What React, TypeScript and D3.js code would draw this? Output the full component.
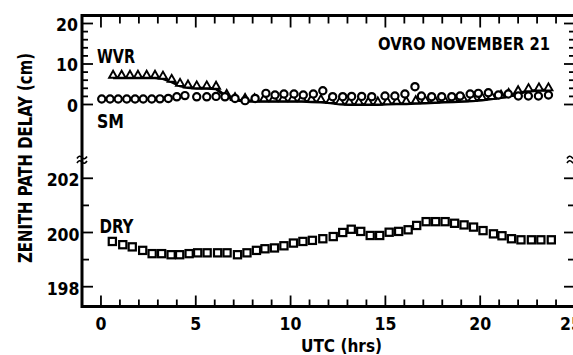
import React from 'react';
import * as d3 from 'd3';

// ---- data ----
const dryTimes = [0.6, 1.15, 1.65, 2.2, 2.7, 3.2, 3.7, 4.15, 4.65, 5.1, 5.6, 6.15, 6.65, 7.2, 7.7, 8.2, 8.65, 9.15, 9.65, 10.15, 10.65, 11.15, 11.7, 12.25, 12.75, 13.2, 13.7, 14.2, 14.7, 15.2, 15.7, 16.2, 16.65, 17.15, 17.65, 18.15, 18.65, 19.15, 19.65, 20.15, 20.7, 21.15, 21.65, 22.15, 22.7, 23.2, 23.75];
const dryValues = [199.67, 199.55, 199.47, 199.34, 199.22, 199.22, 199.18, 199.18, 199.22, 199.25, 199.25, 199.25, 199.25, 199.18, 199.25, 199.34, 199.4, 199.43, 199.51, 199.61, 199.67, 199.71, 199.77, 199.85, 200.0, 200.12, 200.04, 199.89, 199.89, 200.01, 200.04, 200.1, 200.26, 200.4, 200.4, 200.4, 200.34, 200.28, 200.2, 200.07, 199.95, 199.88, 199.77, 199.73, 199.73, 199.73, 199.73];

const smTimes = [0.04, 0.48, 0.91, 1.36, 1.8, 2.23, 2.68, 3.11, 3.55, 4.0, 4.43, 5.05, 5.58, 6.07, 6.54, 7.07, 7.6, 8.13, 8.7, 9.18, 9.65, 10.18, 10.67, 11.2, 11.7, 12.22, 12.75, 13.22, 13.75, 14.28, 14.98, 15.5, 16.03, 16.56, 16.9, 17.44, 17.97, 18.5, 18.94, 19.47, 19.9, 20.43, 20.96, 21.48, 22.01, 22.54, 23.07, 23.6];
const smValues = [1.35, 1.35, 1.35, 1.35, 1.35, 1.35, 1.35, 1.4, 1.5, 1.9, 2.2, 1.9, 1.9, 2.0, 1.9, 1.5, 0.95, 1.5, 2.75, 2.35, 2.6, 2.6, 2.35, 2.6, 3.4, 1.93, 1.93, 2.0, 2.0, 1.93, 2.1, 2.1, 2.6, 4.4, 2.1, 1.93, 1.93, 1.93, 2.1, 2.6, 2.75, 2.9, 2.35, 2.6, 2.1, 2.1, 2.1, 2.35];

const wvrTimes = [0.64, 1.09, 1.53, 1.95, 2.41, 2.85, 3.27, 3.73, 4.17, 4.59, 5.05, 5.58, 6.07, 6.63, 7.07, 7.6, 8.1, 8.6, 9.1, 9.6, 10.1, 10.6, 11.1, 11.6, 12.1, 12.6, 13.1, 13.6, 14.1, 14.6, 15.1, 15.6, 16.1, 16.6, 17.1, 17.6, 18.1, 18.6, 19.1, 19.6, 20.1, 20.6, 21.1, 21.5, 22.0, 22.55, 23.1, 23.6];
const wvrValues = [6.6, 6.6, 6.6, 6.6, 6.6, 6.6, 6.4, 5.6, 4.6, 4.2, 4.0, 4.0, 3.9, 1.85, 1.1, 0.86, 0.8, 0.8, 0.8, 0.8, 0.8, 0.8, 0.7, 0.6, 0.4, 0.1, 0.0, 0.0, 0.0, 0.0, 0.1, 0.2, 0.2, 0.3, 0.4, 0.5, 0.6, 0.7, 0.8, 0.9, 1.1, 1.4, 1.7, 2.1, 2.8, 3.3, 3.5, 3.5];

const xMajorTicks = [0, 5, 10, 15, 20, 25];
const xMinorTicks = [1, 2, 3, 4, 6, 7, 8, 9, 11, 12, 13, 14, 16, 17, 18, 19, 21, 22, 23, 24];
const wetMajorTicks = [0, 10, 20];
const wetMinorTicks = [2, 4, 6, 8, 12, 14, 16, 18];
const dryMajorTicks = [198, 200, 202];
const dryMinorTicks = [199, 201];

const FONT = '"DejaVu Sans Condensed", "DejaVu Sans", sans-serif';

export default function App() {
  const W = 573, H = 355;
  const left = 82, right = 575, top = 15.5, bottom = 306.5;
  const x = d3.scaleLinear().domain([-1, 25]).range([left, right]);
  const yWet = d3.scaleLinear().domain([0, 20]).range([104.5, 23.5]);
  const yDry = d3.scaleLinear().domain([198, 202]).range([286.7, 178.3]);

  const wvrLine = d3.line<number>().x((_, i) => x(wvrTimes[i])).y((d) => yWet(d))(wvrValues) || '';

  const tilde = (cx: number, cy: number) =>
    `M${cx - 5},${cy + 1} q2.5,-4 5,-1 t5,-1`;

  return (
    <svg width={W} height={H} style={{ position: 'absolute', left: 0, top: 0, background: '#fff' }} fontFamily={FONT} fontWeight="bold">
      <rect x={0} y={0} width={W} height={H} fill="#fff" />
      {/* frame */}
      <g stroke="#000" strokeWidth={3} fill="none">
        <line x1={left} y1={top} x2={right} y2={top} />
        <line x1={left} y1={bottom} x2={right} y2={bottom} />
        <line x1={left} y1={top - 1.5} x2={left} y2={bottom + 1.5} />
        <line x1={right} y1={top - 1.5} x2={right} y2={bottom + 1.5} />
      </g>
      {/* ticks */}
      <g stroke="#000" strokeWidth={1.8}>
        {xMajorTicks.map((t) => (
          <g key={'xM' + t}>
            <line x1={x(t)} x2={x(t)} y1={bottom} y2={bottom - 11} />
            <line x1={x(t)} x2={x(t)} y1={top} y2={top + 12} />
          </g>
        ))}
        {xMinorTicks.map((t) => (
          <g key={'xm' + t}>
            <line x1={x(t)} x2={x(t)} y1={bottom} y2={bottom - 7} />
            <line x1={x(t)} x2={x(t)} y1={top} y2={top + 8} />
          </g>
        ))}
        {wetMajorTicks.map((v) => (
          <g key={'wM' + v}>
            <line x1={left} x2={left + 11} y1={yWet(v)} y2={yWet(v)} />
            <line x1={right} x2={right - 11} y1={yWet(v)} y2={yWet(v)} />
          </g>
        ))}
        {wetMinorTicks.map((v) => (
          <g key={'wm' + v}>
            <line x1={left} x2={left + 6} y1={yWet(v)} y2={yWet(v)} />
            <line x1={right} x2={right - 6} y1={yWet(v)} y2={yWet(v)} />
          </g>
        ))}
        {dryMajorTicks.map((v) => (
          <g key={'dM' + v}>
            <line x1={left} x2={left + 11} y1={yDry(v)} y2={yDry(v)} />
            <line x1={right} x2={right - 11} y1={yDry(v)} y2={yDry(v)} />
          </g>
        ))}
        {dryMinorTicks.map((v) => (
          <g key={'dm' + v}>
            <line x1={left} x2={left + 7} y1={yDry(v)} y2={yDry(v)} />
            <line x1={right} x2={right - 7} y1={yDry(v)} y2={yDry(v)} />
          </g>
        ))}
      </g>
      {/* axis breaks */}
      <g stroke="#000" strokeWidth={1.6} fill="none">
        <path d={tilde(left, 157.5)} />
        <path d={tilde(left, 162)} />
        <path d={tilde(right - 3, 157.5)} />
        <path d={tilde(right - 3, 162)} />
      </g>
      {/* tick labels */}
      <g fontSize={17.5} fill="#000">
        {xMajorTicks.map((t) => (
          <text key={'xl' + t} x={t === 25 ? x(t) - 4 : x(t)} y={329.5} textAnchor="middle">{t}</text>
        ))}
        {wetMajorTicks.map((v) => (
          <text key={'wl' + v} x={78} y={yWet(v) + 7} textAnchor="end">{v}</text>
        ))}
        {dryMajorTicks.map((v) => (
          <text key={'dl' + v} x={79.5} y={yDry(v) + 8} textAnchor="end">{v}</text>
        ))}
      </g>
      {/* titles */}
      <text transform="translate(31.5,158) rotate(-90)" textAnchor="middle" fontSize={20} textLength={210} lengthAdjust="spacingAndGlyphs">ZENITH PATH DELAY (cm)</text>
      <text x={301} y={352} fontSize={18} textLength={81} lengthAdjust="spacingAndGlyphs">UTC (hrs)</text>
      <text x={378} y={50} fontSize={18} textLength={172} lengthAdjust="spacingAndGlyphs">OVRO NOVEMBER  21</text>
      <text x={97} y={63} fontSize={20} textLength={38} lengthAdjust="spacingAndGlyphs">WVR</text>
      <text x={97} y={128} fontSize={20} textLength={27} lengthAdjust="spacingAndGlyphs">SM</text>
      <text x={99.5} y={233} fontSize={20} textLength={34} lengthAdjust="spacingAndGlyphs">DRY</text>
      {/* WVR line + triangles */}
      <path d={wvrLine} fill="none" stroke="#000" strokeWidth={3} />
      <g fill="#fff" stroke="#000" strokeWidth={1.9}>
        {wvrValues.map((v, i) => {
          const cx = x(wvrTimes[i]);
          const cy = yWet(v);
          return <path key={'t' + i} d={`M${cx - 4},${cy} L${cx + 4},${cy} L${cx},${cy - 7} Z`} />;
        })}
      </g>
      {/* SM circles */}
      <g fill="#fff" stroke="#000" strokeWidth={2.2}>
        {smValues.map((v, i) => (
          <circle key={'c' + i} cx={x(smTimes[i])} cy={yWet(v)} r={3.6} />
        ))}
      </g>
      {/* DRY squares */}
      <g fill="#fff" stroke="#000" strokeWidth={2.2}>
        {dryValues.map((v, i) => (
          <rect key={'s' + i} x={x(dryTimes[i]) - 3.6} y={yDry(v) - 3.6} width={7.2} height={7.2} />
        ))}
      </g>
    </svg>
  );
}
